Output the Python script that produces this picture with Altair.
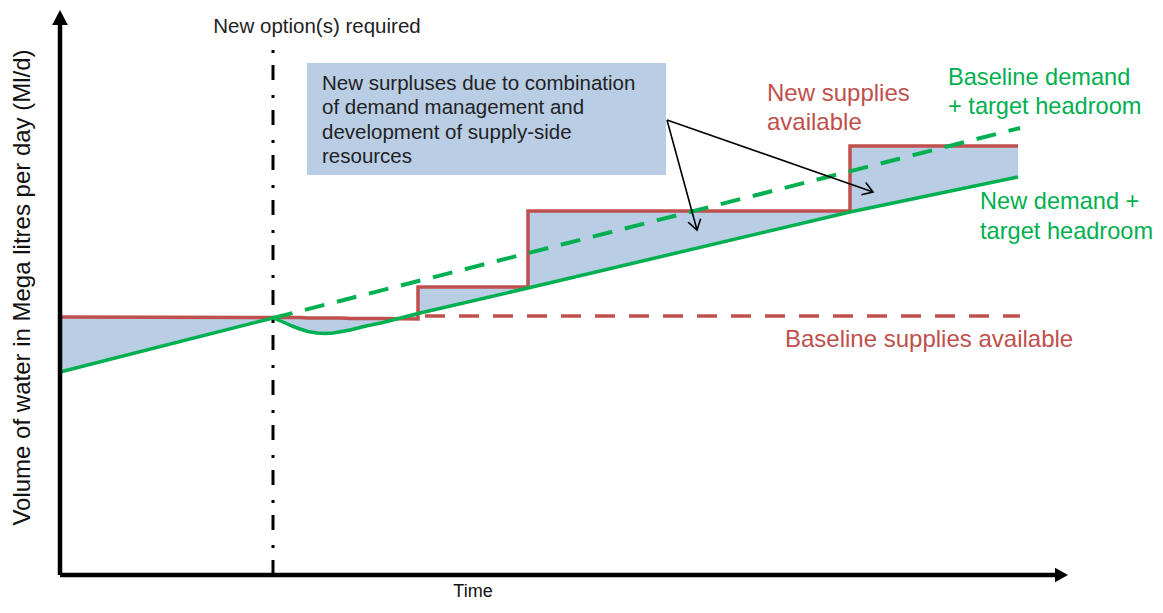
import altair as alt
import pandas as pd

# ---------------- data ----------------
# main series: time, new supplies (step), new demand + target headroom
time_pts = [0, 21.3, 22.3, 23.2, 24.0, 24.8, 25.7, 26.5, 27.3, 28.2, 29.0, 30.6, 32.3,
            35.8, 35.8, 46.8, 46.8, 79.0, 79.0, 95.8]
supply = [51.6, 51.5, 51.5, 51.5, 51.5, 51.4, 51.4, 51.4, 51.4, 51.4, 51.3, 51.3, 51.3,
          51.2, 57.6, 57.6, 72.8, 72.8, 85.8, 85.8]
demand = [40.6, 51.4, 50.6, 49.8, 49.2, 48.7, 48.4, 48.3, 48.4, 48.7, 49.0, 49.8, 50.5,
          52.3, 52.3, 57.4, 57.4, 72.6, 72.6, 79.6]

# baseline supplies available (dashed red)
base_sup_t = [36.5, 96.0]
base_sup_v = [51.8, 51.8]

# baseline demand + target headroom (dashed green)
base_dem_t = [21.3, 96.0]
base_dem_v = [51.4, 89.4]

# "new option(s) required" time
option_t = 21.3
option_top = 105.0

# annotation box and arrows
box_x = [24.7, 60.6]
box_y = [80.0, 102.4]
arrow_start = (60.7, 91.0)
arrow_ends_t = [81.3, 63.7]
arrow_ends_v = [76.6, 69.0]
arrow_angles = [19.3, 74.7]

box_lines = ["New surpluses due to combination",
             "of demand management and",
             "development of supply-side",
             "resources"]
box_line_v = [98.3, 93.4, 88.5, 83.6]
box_text_t = 26.2

red_labels = ["New supplies", "available", "Baseline supplies available"]
red_label_t = [70.7, 70.7, 72.5]
red_label_v = [96.2, 90.4, 47.0]

green_labels = ["Baseline demand", "+ target headroom", "New demand +", "target headroom"]
green_label_t = [88.8, 88.8, 92.0, 92.0]
green_label_v = [99.4, 93.6, 74.6, 68.6]

y_title = "Volume of water in Mega litres per day (Ml/d)"
x_title = "Time"
option_label = "New option(s) required"

# ---------------- styling ----------------
RED = "#C0504D"
GREEN = "#00B050"
FILL = "#B9CDE5"
FONT = "Liberation Sans"

xs = alt.Scale(domain=[-5.2, 109.5], nice=False, zero=False)
ys = alt.Scale(domain=[-5.8, 113.4], nice=False, zero=False)


def X(f):
    return alt.X(f, type="quantitative", scale=xs, axis=None)


def Y(f):
    return alt.Y(f, type="quantitative", scale=ys, axis=None)


main = pd.DataFrame({"i": range(len(time_pts)), "t": time_pts, "sup": supply, "dem": demand})

area = alt.Chart(main).mark_area(fill=FILL, opacity=1, interpolate="linear").encode(
    x=X("t"), y=Y("sup"), y2=alt.Y2("dem"))

box = alt.Chart(pd.DataFrame({"x": [box_x[0]], "x2": [box_x[1]], "y": [box_y[0]], "y2": [box_y[1]]})).mark_rect(
    color=FILL, opacity=1).encode(x=X("x"), x2=alt.X2("x2"), y=Y("y"), y2=alt.Y2("y2"))

red_line = alt.Chart(main).mark_line(color=RED, strokeWidth=3.5, strokeJoin="miter").encode(
    x=X("t"), y=Y("sup"), order=alt.Order("i:Q"))

green_line = alt.Chart(main).mark_line(color=GREEN, strokeWidth=3.5, strokeJoin="round").encode(
    x=X("t"), y=Y("dem"), order=alt.Order("i:Q"))

red_dash = alt.Chart(pd.DataFrame({"t": base_sup_t, "v": base_sup_v})).mark_line(
    color=RED, strokeWidth=3.5, strokeDash=[20, 14]).encode(x=X("t"), y=Y("v"))

green_dash = alt.Chart(pd.DataFrame({"t": base_dem_t, "v": base_dem_v})).mark_line(
    color=GREEN, strokeWidth=4, strokeDash=[20, 13]).encode(x=X("t"), y=Y("v"))

option_rule = alt.Chart(pd.DataFrame({"x": [option_t], "y": [0.0], "y2": [option_top]})).mark_rule(
    color="black", strokeWidth=3, strokeDash=[15, 12, 3, 15]).encode(x=X("x"), y=Y("y"), y2=alt.Y2("y2"))

axes = alt.Chart(pd.DataFrame({"x": [0.0, 0.0], "x2": [0.0, 100.0], "y": [0.0, 0.0], "y2": [111.5, 0.0]})).mark_rule(
    color="black", strokeWidth=4.5).encode(x=X("x"), x2=alt.X2("x2"), y=Y("y"), y2=alt.Y2("y2"))

up_head = alt.Chart(pd.DataFrame({"x": [0.0], "y": [111.5]})).mark_point(
    shape="M 0 -1 L 1.05 1 L -1.05 1 Z", filled=True, color="black", opacity=1, size=225).encode(
    x=X("x"), y=Y("y"))

right_head = alt.Chart(pd.DataFrame({"x": [100.15], "y": [0.0]})).mark_point(
    shape="M 1 0 L -1 1.1 L -1 -1.1 Z", filled=True, color="black", opacity=1, size=169).encode(
    x=X("x"), y=Y("y"))

arrows_df = pd.DataFrame({
    "x": [arrow_start[0]] * 2, "y": [arrow_start[1]] * 2,
    "x2": arrow_ends_t, "y2": arrow_ends_v, "ang": arrow_angles})

arrow_lines = alt.Chart(arrows_df).mark_rule(color="black", strokeWidth=1.6).encode(
    x=X("x"), y=Y("y"), x2=alt.X2("x2"), y2=alt.Y2("y2"))

arrow_heads = alt.Chart(arrows_df).mark_point(
    shape="M -1 -0.65 L 0 0 L -1 0.65", filled=False, stroke="black", strokeWidth=1.6,
    opacity=1, size=400).encode(x=X("x2"), y=Y("y2"), angle=alt.Angle("ang:Q", scale=None))

box_text = alt.Chart(pd.DataFrame({"t": [box_text_t] * 4, "v": box_line_v, "s": box_lines})).mark_text(
    align="left", baseline="middle", font=FONT, fontSize=20.5, color="#222222").encode(
    x=X("t"), y=Y("v"), text="s:N")

red_text = alt.Chart(pd.DataFrame({"t": red_label_t, "v": red_label_v, "s": red_labels})).mark_text(
    align="left", baseline="middle", font=FONT, fontSize=24, color=RED).encode(
    x=X("t"), y=Y("v"), text="s:N")

green_text = alt.Chart(pd.DataFrame({"t": green_label_t, "v": green_label_v, "s": green_labels})).mark_text(
    align="left", baseline="middle", font=FONT, fontSize=23.6, color=GREEN).encode(
    x=X("t"), y=Y("v"), text="s:N")

option_text = alt.Chart(pd.DataFrame({"t": [25.7], "v": [109.6], "s": [option_label]})).mark_text(
    align="center", baseline="middle", font=FONT, fontSize=20.5, color="#222222").encode(
    x=X("t"), y=Y("v"), text="s:N")

time_text = alt.Chart(pd.DataFrame({"t": [41.3], "v": [-3.4], "s": [x_title]})).mark_text(
    align="center", baseline="middle", font=FONT, fontSize=18, color="#111111").encode(
    x=X("t"), y=Y("v"), text="s:N")

ytitle_text = alt.Chart(pd.DataFrame({"t": [-3.7], "v": [57.5], "s": [y_title]})).mark_text(
    align="center", baseline="middle", font=FONT, fontSize=24, color="#111111", angle=270).encode(
    x=X("t"), y=Y("v"), text="s:N")

chart = alt.layer(
    area, box, red_line, red_dash, green_dash, green_line, option_rule, axes, up_head, right_head,
    arrow_lines, arrow_heads, box_text, red_text, green_text, option_text, time_text, ytitle_text
).properties(
    width=1147, height=596, padding=0, autosize=alt.AutoSizeParams(type="none")
).configure_view(stroke=None)

chart.save("out.html", embed_options={"renderer": "svg", "actions": False})
